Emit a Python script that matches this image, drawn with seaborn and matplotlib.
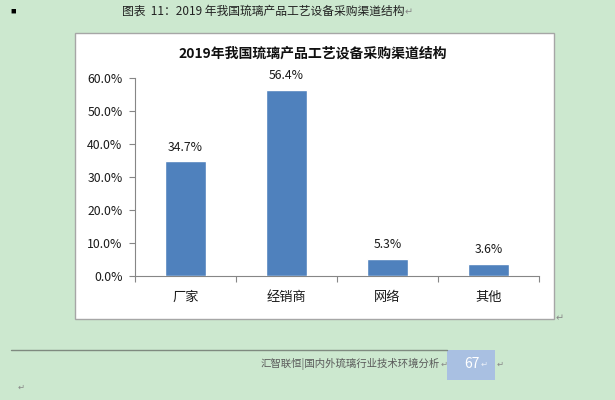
import matplotlib
matplotlib.use("Agg")
import matplotlib.pyplot as plt
import seaborn as sns
import pandas as pd
from matplotlib.patches import Rectangle
from matplotlib.ticker import FuncFormatter, FixedLocator

# data
channels = ["厂家", "经销商", "网络", "其他"]
shares = [0.347, 0.564, 0.053, 0.036]
share_labels = ["34.7%", "56.4%", "5.3%", "3.6%"]
y_ticks = [0.0, 0.1, 0.2, 0.3, 0.4, 0.5, 0.6]

caption = "图表  11：2019 年我国琉璃产品工艺设备采购渠道结构"
chart_title = "2019年我国琉璃产品工艺设备采购渠道结构"
footer_text = "汇智联恒|国内外琉璃行业技术环境分析"
page_no = "67"

sns.set_theme(style="white")
plt.rcParams["font.family"] = ["Noto Sans CJK SC", "DejaVu Sans"]

page_bg = "#CCE8CF"
bar_color = "#4F81BD"

fig = plt.figure(figsize=(6.15, 4.0), dpi=100)
fig.patch.set_facecolor(page_bg)

# chart frame (white box), drawn under the axes
fig.patches.append(Rectangle((75 / 615, 1 - 319 / 400), 479 / 615, 286 / 400,
                             transform=fig.transFigure, facecolor="white",
                             edgecolor="#A6A6A6", linewidth=1.0, zorder=-5))

ax = fig.add_axes([135 / 615, 1 - 276 / 400, 404 / 615, 198 / 400])
ax.set_zorder(2)
ax.set_facecolor("none")

df = pd.DataFrame({"channel": channels, "share": shares})
sns.barplot(data=df, x="channel", y="share", color=bar_color, width=0.4,
            saturation=1, ax=ax, zorder=3)

ax.set_xlim(-0.5, len(channels) - 0.5)
ax.set_ylim(0, 0.6)
ax.set_xlabel("")
ax.set_ylabel("")

ax.yaxis.set_major_locator(FixedLocator(y_ticks))
ax.yaxis.set_major_formatter(FuncFormatter(lambda v, p: f"{v * 100:.1f}%"))
ax.tick_params(axis="y", which="major", direction="out", length=4, width=0.8,
               color="#868686", labelsize=8.8, labelcolor="#1A1A1A", pad=5,
               left=True)
ax.tick_params(axis="x", which="major", length=0, labelsize=9.5,
               labelcolor="#1A1A1A", pad=11)
ax.set_xticks(range(len(channels)))
ax.set_xticks([i - 0.5 for i in range(len(channels) + 1)], minor=True)
ax.tick_params(axis="x", which="minor", direction="out", length=4, width=0.8,
               color="#868686", bottom=True)

for side in ["top", "right"]:
    ax.spines[side].set_visible(False)
for side in ["left", "bottom"]:
    ax.spines[side].set_color("#868686")
    ax.spines[side].set_linewidth(0.8)

for i, (v, lab) in enumerate(zip(shares, share_labels)):
    ax.annotate(lab, (i, v), xytext=(0, 5.5), textcoords="offset points",
                ha="center", va="bottom", fontsize=8.8, color="#1A1A1A",
                clip_on=False)

# chart title inside frame
fig.text(313 / 615, 1 - 54 / 400, chart_title, ha="center", va="center",
         fontsize=10, fontweight="bold", color="#111111")

# document caption above
fig.text(13 / 615, 1 - 11 / 400, "■", ha="center", va="center", fontsize=4,
         color="black")
fig.text(263 / 615, 1 - 11 / 400, caption, ha="center", va="center",
         fontsize=8.5, color="#222222")
fig.text(405 / 615, 1 - 12 / 400, "↵", ha="left", va="center", fontsize=7,
         color="#888888")
fig.text(556 / 615, 1 - 318 / 400, "↵", ha="left", va="center", fontsize=7,
         color="#888888")

# footer
fig.add_artist(plt.Line2D([11 / 615, 447 / 615], [1 - 350 / 400, 1 - 350 / 400],
                          transform=fig.transFigure, color="#7F8A80", linewidth=1))
fig.patches.append(Rectangle((447 / 615, 1 - 380 / 400), 48 / 615, 30 / 400,
                             transform=fig.transFigure, facecolor="#A9C0E2",
                             edgecolor="none"))
fig.text(440 / 615, 1 - 364 / 400, footer_text, ha="right", va="center",
         fontsize=7.5, color="#5A5A5A")
fig.text(441 / 615, 1 - 364 / 400, "↵", ha="left", va="center", fontsize=6,
         color="#888888")
fig.text(472 / 615, 1 - 364 / 400, page_no, ha="center", va="center",
         fontsize=10, color="white")
fig.text(481 / 615, 1 - 364 / 400, "↵", ha="left", va="center", fontsize=6,
         color="#E8EEF8")
fig.text(497 / 615, 1 - 364 / 400, "↵", ha="left", va="center", fontsize=6,
         color="#888888")
fig.text(18 / 615, 1 - 387 / 400, "↵", ha="left", va="center", fontsize=6,
         color="#888888")

fig.savefig("out.png", dpi=100, facecolor=fig.get_facecolor())
